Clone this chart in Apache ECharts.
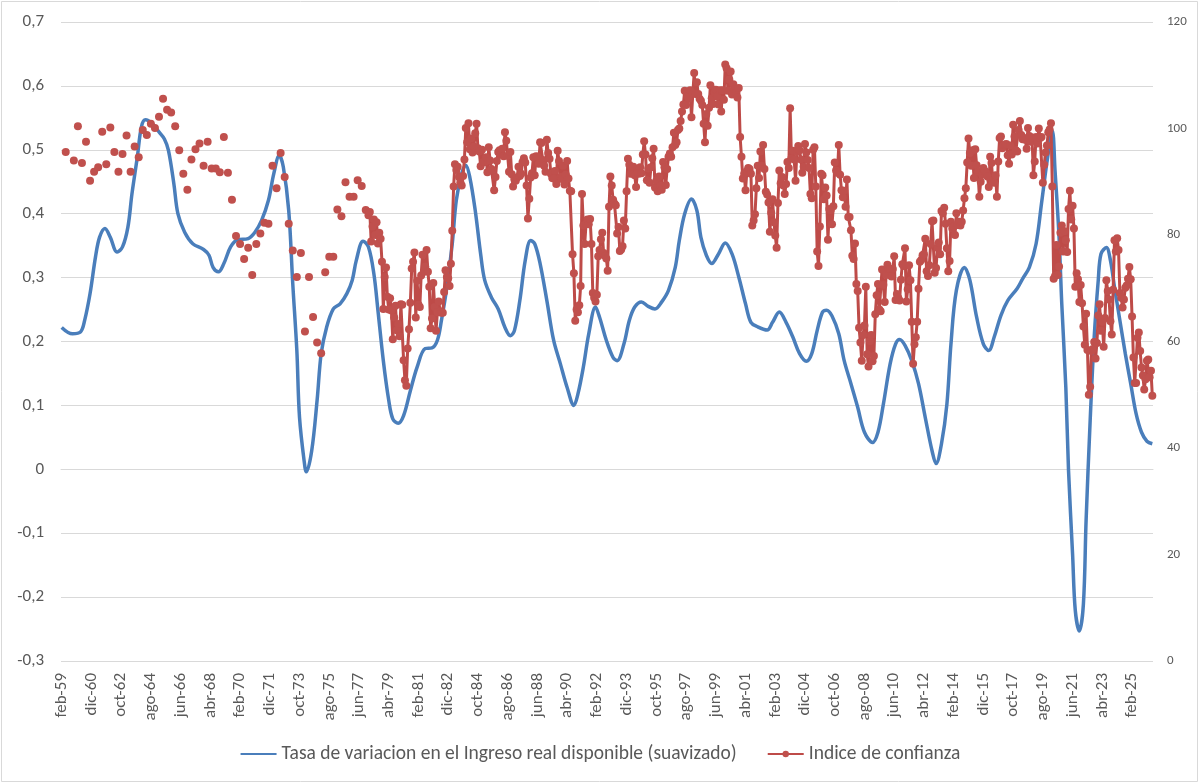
<!DOCTYPE html>
<html>
<head>
<meta charset="utf-8">
<script src="https://cdn.jsdelivr.net/npm/echarts@6.0.0/dist/echarts.min.js"></script>
<style>
  html, body { margin: 0; padding: 0; background: #fff; }
  #chart { width: 1200px; height: 784px; }
</style>
</head>
<body>
<div id="chart"></div>
<script>
// ---------- DATA ----------
const monthNames = ['ene','feb','mar','abr','may','jun','jul','ago','sep','oct','nov','dic'];
const firstMonth = '1959-02';
const lastMonth = '2026-05';

const incomeName = 'Tasa de variacion en el Ingreso real disponible (suavizado)';
const confidenceName = 'Indice de confianza';

// Smoothed real disposable income growth (left axis)
const incomeSmoothed = [
  ["1959-02",0.222],["1959-10",0.212],["1960-04",0.215],["1960-07",0.233],["1960-11",0.275],["1961-03",0.332],
  ["1961-06",0.363],["1961-10",0.377],["1962-02",0.363],["1962-07",0.340],["1962-11",0.348],["1963-03",0.379],
  ["1963-06",0.431],["1963-10",0.489],["1964-01",0.536],["1964-04",0.547],["1964-09",0.541],["1965-02",0.528],
  ["1965-06",0.517],["1965-09",0.499],["1966-01",0.447],["1966-04",0.400],["1966-09",0.371],["1967-03",0.353],
  ["1967-11",0.344],["1968-03",0.335],["1968-06",0.316],["1968-10",0.309],["1969-02",0.322],["1969-07",0.348],
  ["1969-12",0.359],["1970-08",0.361],["1971-01",0.371],["1971-06",0.390],["1971-11",0.421],["1972-03",0.463],
  ["1972-07",0.491],["1972-10",0.473],["1973-02",0.405],["1973-05",0.290],["1973-08",0.186],["1973-10",0.081],
  ["1974-02",0.003],["1974-03",-0.004],["1974-07",0.029],["1974-11",0.108],["1975-02",0.181],["1975-06",0.222],
  ["1975-11",0.251],["1976-04",0.259],["1976-09",0.275],["1977-01",0.296],["1977-04",0.327],["1977-09",0.357],
  ["1978-01",0.348],["1978-05",0.306],["1978-08",0.249],["1978-12",0.170],["1979-04",0.108],["1979-07",0.079],
  ["1979-11",0.072],["1980-03",0.084],["1980-08",0.123],["1981-01",0.160],["1981-07",0.189],["1981-12",0.190],
  ["1982-04",0.202],["1982-07",0.233],["1982-11",0.285],["1983-03",0.353],["1983-06",0.421],["1983-10",0.463],
  ["1984-01",0.476],["1984-04",0.457],["1984-08",0.405],["1984-12",0.337],["1985-03",0.296],["1985-08",0.269],
  ["1986-01",0.251],["1986-06",0.222],["1986-10",0.209],["1987-01",0.217],["1987-05",0.264],["1987-09",0.327],
  ["1988-01",0.358],["1988-04",0.353],["1988-08",0.322],["1989-01",0.264],["1989-06",0.202],["1989-11",0.165],
  ["1990-04",0.128],["1990-09",0.100],["1990-12",0.118],["1991-04",0.160],["1991-08",0.212],["1992-01",0.254],
  ["1992-04",0.238],["1992-09",0.202],["1993-02",0.175],["1993-05",0.170],["1993-10",0.196],["1994-02",0.233],
  ["1994-06",0.254],["1994-11",0.262],["1995-04",0.255],["1995-09",0.251],["1996-02",0.262],["1996-07",0.280],
  ["1996-12",0.316],["1997-03",0.358],["1997-07",0.400],["1997-12",0.423],["1998-04",0.405],["1998-07",0.363],
  ["1998-11",0.335],["1999-03",0.322],["1999-08",0.337],["2000-01",0.354],["2000-06",0.337],["2000-11",0.301],
  ["2001-04",0.259],["2001-08",0.230],["2002-01",0.223],["2002-08",0.218],["2002-12",0.230],["2003-05",0.246],
  ["2003-10",0.230],["2004-03",0.207],["2004-08",0.181],["2005-01",0.169],["2005-05",0.181],["2005-09",0.217],
  ["2006-01",0.246],["2006-04",0.249],["2006-08",0.240],["2007-01",0.212],["2007-05",0.170],["2007-10",0.134],
  ["2008-03",0.097],["2008-08",0.058],["2009-02",0.042],["2009-06",0.058],["2009-10",0.102],["2010-03",0.165],
  ["2010-07",0.196],["2010-10",0.203],["2011-02",0.194],["2011-07",0.170],["2011-12",0.134],["2012-05",0.081],
  ["2012-10",0.029],["2013-01",0.009],["2013-05",0.040],["2013-09",0.102],["2013-12",0.196],["2014-04",0.280],
  ["2014-10",0.316],["2015-02",0.296],["2015-07",0.238],["2015-12",0.196],["2016-04",0.186],["2016-08",0.207],
  ["2017-01",0.241],["2017-06",0.264],["2018-01",0.283],["2018-05",0.298],["2018-10",0.316],["2019-03",0.353],
  ["2019-07",0.416],["2019-11",0.480],["2020-03",0.530],["2020-05",0.468],["2020-08",0.363],["2020-10",0.259],
  ["2021-01",0.128],["2021-03",-0.002],["2021-06",-0.133],["2021-08",-0.221],["2021-11",-0.253],["2022-02",-0.211],
  ["2022-04",-0.080],["2022-07",0.076],["2022-10",0.207],["2023-01",0.296],["2023-03",0.337],["2023-07",0.347],
  ["2023-10",0.327],["2024-01",0.285],["2024-05",0.233],["2024-09",0.181],["2025-01",0.134],["2025-05",0.087],
  ["2025-09",0.058],["2026-01",0.044],["2026-05",0.040]
];

// Confidence index (right axis): quarterly surveys before 1978 (isolated dots)
const confidenceQuarterly = [
  ["1959-05",95.6],["1959-11",94.0],["1960-02",100.4],["1960-05",93.5],["1960-08",97.5],["1960-11",90.2],
  ["1961-02",91.9],["1961-05",92.7],["1961-08",99.4],["1961-11",93.3],["1962-02",100.2],["1962-05",95.6],
  ["1962-08",91.9],["1962-11",95.2],["1963-02",98.7],["1963-05",91.9],["1963-08",96.6],["1963-11",94.6],
  ["1964-02",99.7],["1964-05",98.8],["1964-08",100.9],["1964-11",100.1],["1965-02",102.2],["1965-05",105.6],
  ["1965-08",103.5],["1965-11",103.0],["1966-02",100.4],["1966-05",95.9],["1966-08",91.5],["1966-11",88.5],
  ["1967-02",94.2],["1967-05",96.1],["1967-08",97.2],["1967-11",93.0],["1968-02",97.5],["1968-05",92.5],
  ["1968-08",92.5],["1968-11",91.8],["1969-02",98.4],["1969-05",91.7],["1969-08",86.6],["1969-11",79.8],
  ["1970-02",78.3],["1970-05",75.5],["1970-08",77.6],["1970-11",72.5],["1971-02",78.3],["1971-05",80.3],
  ["1971-08",82.3],["1971-11",82.1],["1972-02",93.0],["1972-05",88.8],["1972-08",95.4],["1972-11",90.9],
  ["1973-02",82.1],["1973-05",77.1],["1973-08",72.1],["1973-11",76.6],["1974-02",61.9],["1974-05",72.1],
  ["1974-08",64.6],["1974-11",59.8],["1975-02",57.8],["1975-05",73.0],["1975-08",75.9],["1975-11",75.9],
  ["1976-02",84.8],["1976-05",83.5],["1976-08",89.9],["1976-11",87.2],["1977-02",87.2],["1977-05",90.3],
  ["1977-08",89.2],["1977-11",84.7]
];

// Confidence index, monthly from 1978-01 onward (connected line)
const confidenceMonthlyStart = '1978-01';
const confidenceMonthly = [
  83.7,84.3,78.8,81.6,82.9,80.0,82.4,78.4,80.4,79.3,75.0,66.1,
  72.1,73.9,68.4,66.0,68.1,65.8,60.4,64.5,66.7,62.1,63.3,61.0,
  67.0,66.9,56.5,52.7,51.7,58.7,62.3,67.3,73.7,75.0,76.7,64.5,
  71.4,66.9,66.5,72.4,76.3,73.1,74.1,77.2,73.1,70.3,62.5,64.3,
  71.0,66.5,62.0,65.5,67.5,65.7,65.4,65.4,69.3,73.4,72.1,71.9,
  70.4,74.6,80.8,89.1,93.3,92.2,92.8,90.9,89.9,89.3,91.1,94.2,
  100.1,97.4,101.0,96.1,98.1,95.5,96.6,99.1,100.9,96.3,95.7,92.9,
  96.0,93.7,93.7,94.6,91.8,96.5,94.0,92.4,92.1,88.4,90.9,93.9,
  95.6,95.9,95.1,96.2,94.8,99.3,97.7,94.9,91.9,95.6,91.4,89.1,
  90.4,90.2,90.8,92.8,91.1,91.5,93.7,94.4,93.6,89.3,83.1,86.8,
  90.8,91.6,94.6,91.2,94.8,94.7,93.4,97.4,97.3,94.1,93.0,91.9,
  97.9,95.4,94.3,91.5,90.7,90.6,92.0,89.6,95.8,93.9,90.9,90.5,
  93.0,89.5,91.3,93.9,90.6,88.3,88.2,76.4,72.8,63.9,66.0,65.5,
  66.8,70.4,87.7,81.8,78.3,82.1,82.9,82.0,83.0,78.3,69.1,68.2,
  67.5,68.8,76.0,77.2,79.2,80.4,76.6,76.1,75.6,73.3,85.3,91.0,
  89.3,86.6,85.9,85.6,80.3,81.5,77.0,77.3,77.9,82.7,81.2,88.2,
  94.3,93.2,91.5,92.6,92.8,91.2,89.0,91.7,91.5,92.7,91.6,95.1,
  97.6,95.1,90.3,92.5,89.8,92.7,94.4,96.2,88.9,90.2,88.2,91.0,
  89.3,88.5,93.7,92.7,89.4,92.4,94.7,95.3,94.7,96.5,99.2,96.9,
  97.4,99.7,100.0,101.4,103.2,104.5,107.1,104.4,106.0,105.6,107.2,102.1,
  106.6,110.4,106.5,108.7,106.5,105.6,105.2,104.4,100.9,97.4,102.7,100.5,
  103.9,108.1,105.7,104.6,106.8,107.3,106.0,104.5,107.2,103.2,107.2,105.4,
  112.0,111.3,107.1,109.2,110.7,106.4,108.3,107.3,106.8,105.8,107.6,98.4,
  94.7,90.6,91.5,88.4,92.0,92.6,92.4,91.5,81.8,82.7,83.9,88.8,
  93.0,90.7,95.7,93.0,96.9,92.4,88.1,87.6,86.1,80.6,84.2,86.7,
  82.4,79.9,77.6,86.0,92.1,89.7,90.9,89.3,87.7,89.6,93.7,92.6,
  103.8,94.4,95.8,94.2,90.2,95.6,96.7,95.9,94.2,91.7,92.8,97.1,
  95.5,94.1,92.6,87.7,86.9,96.0,96.5,89.1,76.9,74.2,81.6,91.5,
  91.2,86.7,88.9,87.4,79.1,84.9,84.7,82.0,85.4,93.6,92.1,91.7,
  96.9,91.3,88.4,87.1,88.3,85.3,90.4,83.4,83.4,80.9,76.1,75.5,
  78.4,70.8,69.5,62.6,59.8,56.4,61.2,63.0,70.3,57.6,55.3,60.1,
  61.2,56.3,57.3,65.1,68.7,70.8,66.0,65.7,73.5,70.6,67.4,72.5,
  74.4,73.6,73.6,72.2,73.6,76.0,67.8,68.9,68.2,67.7,71.6,74.5,
  74.2,77.5,67.5,69.8,74.3,71.5,63.7,55.8,59.5,60.8,63.7,69.9,
  75.0,75.3,76.2,76.4,79.3,73.2,72.3,74.3,78.3,82.6,82.7,72.9,
  73.8,77.6,78.6,76.4,84.5,84.1,85.1,82.1,77.5,73.2,75.1,82.5,
  81.2,81.6,80.0,84.1,81.9,82.5,81.8,82.5,84.6,86.9,88.8,93.6,
  98.1,95.4,93.0,95.9,90.7,96.1,93.1,91.9,87.2,90.0,91.3,92.6,
  92.0,91.7,91.0,89.0,94.7,93.5,90.0,89.8,91.2,87.2,93.8,98.2,
  98.5,96.3,96.9,97.0,97.1,95.0,93.4,96.8,95.1,100.7,98.5,95.9,
  95.7,99.7,101.4,98.8,98.0,98.2,97.9,96.2,100.1,98.6,97.5,98.3,
  91.2,93.8,98.4,97.2,100.0,98.2,98.4,89.8,93.2,95.5,96.8,99.3,
  99.8,101.0,89.1,71.8,72.3,78.1,72.5,74.1,80.4,81.8,76.9,80.7,
  79.0,76.8,84.9,88.3,82.9,85.5,81.2,70.3,72.8,71.7,67.4,70.6,
  67.2,62.8,59.4,65.2,58.4,50.0,51.5,58.2,58.6,59.9,56.8,59.7,
  64.9,67.0,62.0,63.7,59.0,64.4,71.5,69.5,67.9,63.8,61.3,69.7,
  79.0,76.9,79.4,77.2,69.1,68.2,66.4,67.9,70.1,70.5,71.8,74.0,
  71.7,64.7,57.0,52.2,52.2,60.7,61.7,58.2,55.1,53.6,51.0,52.9,
  56.4,56.6,53.3,54.5,49.8
];

const leftAxis = { min: -0.3, max: 0.7, interval: 0.1 };
const rightAxis = { min: 0, max: 120, interval: 20 };

// ---------- BUILD ----------
function monthIndex(s) {
  const [y, m] = s.split('-').map(Number);
  const [y0, m0] = firstMonth.split('-').map(Number);
  return (y - y0) * 12 + (m - m0);
}
const nCats = monthIndex(lastMonth) + 1;
const categories = [];
{
  let [y, m] = firstMonth.split('-').map(Number);
  for (let i = 0; i < nCats; i++) {
    categories.push(monthNames[m - 1] + '-' + String(y % 100).padStart(2, '0'));
    m++; if (m > 12) { m = 1; y++; }
  }
}
const incomeData = incomeSmoothed.map(([d, v]) => [monthIndex(d), v]);
const confidenceData = new Array(nCats).fill(null);
confidenceQuarterly.forEach(([d, v]) => { confidenceData[monthIndex(d)] = v; });
const cStart = monthIndex(confidenceMonthlyStart);
confidenceMonthly.forEach((v, i) => { confidenceData[cStart + i] = v; });

const FONT = 'Carlito, Calibri, Lato, sans-serif';
const TXT = '#595959';

const chart = echarts.init(document.getElementById('chart'), null, { renderer: 'canvas' });
chart.setOption({
  animation: false,
  backgroundColor: '#ffffff',
  textStyle: { fontFamily: FONT },
  graphic: [{
    type: 'rect', silent: true,
    shape: { x: 1.5, y: 1.5, width: 1196, height: 780 },
    style: { fill: 'none', stroke: '#d9d9d9', lineWidth: 1 }
  }],
  grid: { left: 61, right: 47, top: 22, bottom: 123, containLabel: false },
  legend: {
    bottom: 15, left: 'center',
    itemWidth: 36, itemHeight: 8, itemGap: 30,
    textStyle: { color: TXT, fontSize: 19.5, fontFamily: FONT },
    data: [
      { name: incomeName, itemStyle: { opacity: 0 } },
      { name: confidenceName }
    ]
  },
  xAxis: {
    type: 'category',
    data: categories,
    boundaryGap: true,
    axisLine: { show: true, lineStyle: { color: '#d9d9d9', width: 1 } },
    axisTick: { show: false },
    axisLabel: {
      interval: 21, rotate: 90, margin: 12,
      color: TXT, fontSize: 17, fontFamily: FONT
    },
    splitLine: { show: false }
  },
  yAxis: [
    {
      type: 'value', min: leftAxis.min, max: leftAxis.max, interval: leftAxis.interval,
      axisLine: { show: false }, axisTick: { show: false },
      axisLabel: {
        margin: 17, color: TXT, fontSize: 17, fontFamily: FONT,
        formatter: v => Math.abs(v) < 1e-9 ? '0' : v.toFixed(1).replace('.', ',')
      },
      splitLine: { show: true, lineStyle: { color: '#d9d9d9', width: 1 } }
    },
    {
      type: 'value', min: rightAxis.min, max: rightAxis.max, interval: rightAxis.interval,
      axisLine: { show: false }, axisTick: { show: false },
      axisLabel: { margin: 14, color: TXT, fontSize: 13, fontFamily: FONT },
      splitLine: { show: false }
    }
  ],
  series: [
    {
      name: incomeName,
      type: 'line',
      yAxisIndex: 0,
      data: incomeData,
      smooth: 0.35,
      showSymbol: false,
      symbol: 'none',
      lineStyle: { color: '#4A7EBB', width: 3.5 },
      itemStyle: { color: '#4A7EBB' },
      z: 2
    },
    {
      name: confidenceName,
      type: 'line',
      yAxisIndex: 1,
      data: confidenceData,
      connectNulls: false,
      showSymbol: true,
      showAllSymbol: true,
      symbol: 'circle',
      symbolSize: 8,
      lineStyle: { color: '#BE4B48', width: 3 },
      itemStyle: { color: '#C0504D', borderWidth: 0 },
      z: 3
    }
  ]
});
</script>
</body>
</html>
